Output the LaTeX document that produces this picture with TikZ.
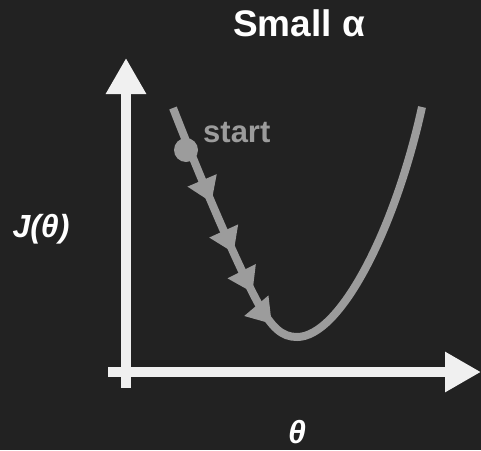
\documentclass[tikz,border=0pt]{standalone}
\usepackage{fontspec}
\setmainfont{Liberation Sans}
\usetikzlibrary{arrows.meta,decorations.markings}
\definecolor{bg}{HTML}{222222}
\definecolor{axiscol}{HTML}{F0F0F0}
\definecolor{curvecol}{HTML}{9C9C9C}
\tikzset{
  axisline/.style={draw=axiscol, line width=10pt, line cap=butt, -{Triangle[width=38pt,length=36pt]}},
  costcurve/.style={draw=curvecol, line width=8pt, line cap=butt},
  steptip/.style={curvecol},
  stepmarks/.style={postaction={decorate}, decoration={markings,
    mark=at position 102pt with {\arrow[steptip]{Triangle[width=30pt,length=24pt]}},
    mark=at position 157pt with {\arrow[steptip]{Triangle[width=30pt,length=24pt]}},
    mark=at position 201pt with {\arrow[steptip]{Triangle[width=30pt,length=24pt]}},
    mark=at position 238pt with {\arrow[steptip]{Triangle[width=30pt,length=24pt]}}}},
  lbl/.style={inner sep=0pt, text=white}
}
\begin{document}
\begin{tikzpicture}[x=1pt,y=-1pt]
\fill[bg] (0,0) rectangle (481,450);
\useasboundingbox (0,0) rectangle (481,450);
% title
\node[lbl, font=\fontsize{37}{40}\selectfont\bfseries] (title) at (299,23) {Small α};
% axes
\coordinate (yb) at (126,388);
\coordinate (yt) at (126,58);
\coordinate (xl) at (108,372);
\coordinate (xr) at (481,372);
\draw[axisline] (yb) -- (yt);
\draw[axisline] (xl) -- (xr);
% axis labels
\node[lbl, font=\fontsize{32}{36}\selectfont\bfseries\itshape] (jlab) at (41,229) {J(θ)};
\node[lbl, font=\fontsize{32}{36}\selectfont\bfseries\itshape] (tlab) at (297,432) {θ};
% cost curve
\coordinate (c0) at (173,108);
\coordinate (cmin) at (297,337);
\coordinate (c1) at (422,107);
\draw[costcurve, stepmarks] (c0) .. controls (205,190) and (240,270) .. (258,303)
   .. controls (272,328) and (282,337) .. (cmin)
   .. controls (340,337) and (395,230) .. (c1);
% start point
\fill[curvecol] (186,150) circle (12);
\node[inner sep=0pt, text=curvecol, font=\fontsize{31}{34}\selectfont\bfseries, anchor=west] (start) at (203,133) {start};
\end{tikzpicture}
\end{document}
